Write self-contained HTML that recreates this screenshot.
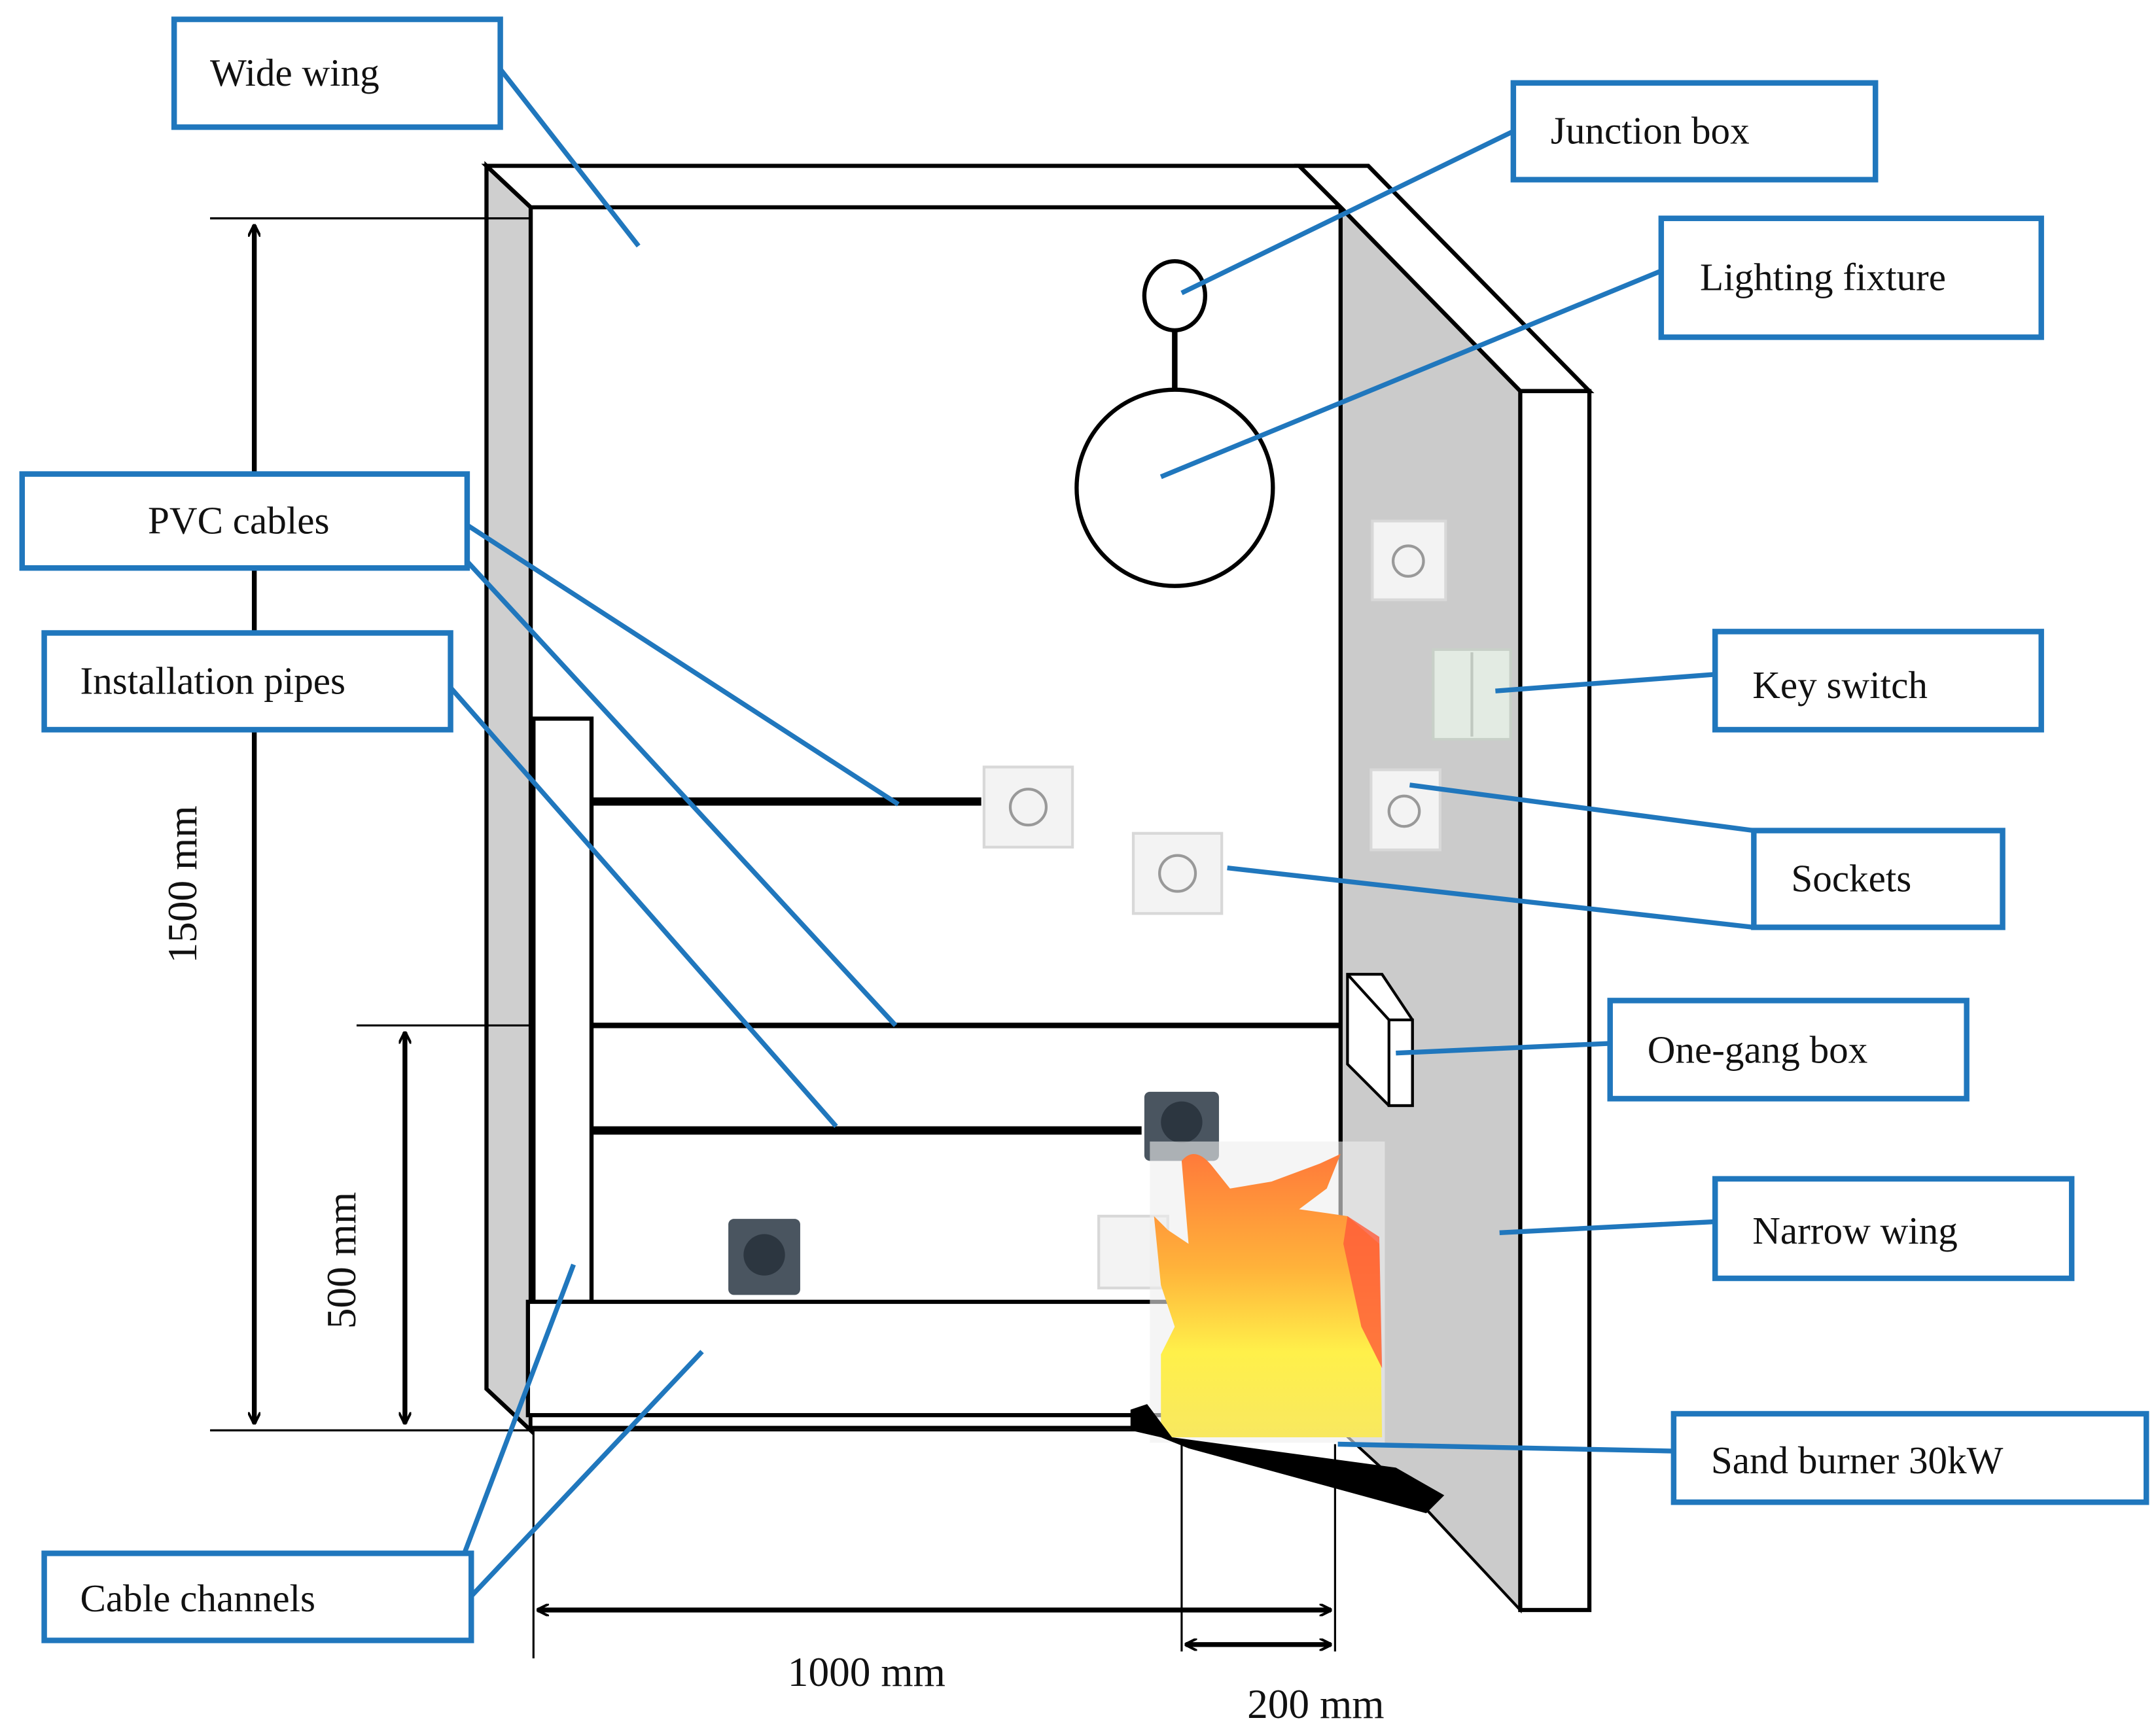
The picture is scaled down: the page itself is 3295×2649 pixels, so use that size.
<!DOCTYPE html>
<html><head><meta charset="utf-8"><style>
html,body{margin:0;padding:0;background:#fff;}
svg{display:block;}
text{font-family:"Liberation Serif",serif;fill:#111;}
</style></head><body>
<svg width="3295" height="2649" viewBox="0 0 1560 1254" preserveAspectRatio="none" xmlns="http://www.w3.org/2000/svg">
<defs>
<marker id="ah" viewBox="0 0 12 12" refX="11" refY="6" markerWidth="9" markerHeight="9" orient="auto-start-reverse" markerUnits="userSpaceOnUse">
<path d="M0,0 L12,6 L0,12" fill="none" stroke="#000" stroke-width="2.5"/></marker>
<linearGradient id="fire" x1="0" y1="0" x2="0" y2="1">
<stop offset="0" stop-color="#ff7a3a"/><stop offset="0.4" stop-color="#ffb23a"/><stop offset="0.7" stop-color="#fff04a"/><stop offset="1" stop-color="#f8e860"/></linearGradient>
</defs>
<rect width="1560" height="1254" fill="#fff"/>
<!-- narrow wing -->
<polygon points="970,150 1100,283 1100,1165 1030,1090 970,1035" fill="#cbcbcb" stroke="#000" stroke-width="2"/>
<polygon points="940,120 990,120 1150,283 1100,283 970,150" fill="#fff" stroke="#000" stroke-width="3"/>
<rect x="1100" y="283" width="50" height="882" fill="#fff" stroke="#000" stroke-width="3"/>
<!-- wide wing -->
<polygon points="352,120 384,150 384,1035 352,1005" fill="#cfcfcf" stroke="#000" stroke-width="3"/>
<polygon points="352,120 940,120 970,150 384,150" fill="#fff" stroke="#000" stroke-width="3"/>
<line x1="970" y1="150" x2="970" y2="1035" stroke="#000" stroke-width="3"/>
<!-- floor -->
<rect x="384" y="1024" width="446" height="9" fill="#fff" stroke="#000" stroke-width="2.5"/>
<!-- cable channels -->
<rect x="386" y="520" width="42" height="422" fill="#fff" stroke="#000" stroke-width="3"/>
<rect x="382" y="942" width="588" height="82" fill="#fff" stroke="#000" stroke-width="3"/>
<!-- cables -->
<line x1="428" y1="580" x2="710" y2="580" stroke="#000" stroke-width="6"/>
<line x1="428" y1="742" x2="970" y2="742" stroke="#000" stroke-width="4"/>
<line x1="428" y1="818" x2="826" y2="818" stroke="#000" stroke-width="6"/>
<!-- dimensions -->
<g stroke="#000" stroke-width="1.5">
<line x1="152" y1="158" x2="384" y2="158"/>
<line x1="152" y1="1035" x2="970" y2="1035"/>
<line x1="258" y1="742" x2="384" y2="742"/>
<line x1="386" y1="1035" x2="386" y2="1200"/>
<line x1="855" y1="1045" x2="855" y2="1195"/>
<line x1="966" y1="1045" x2="966" y2="1195"/>
</g>
<g stroke="#000" stroke-width="3.5" fill="none">
<line x1="184" y1="163" x2="184" y2="1030" marker-start="url(#ah)" marker-end="url(#ah)"/>
<line x1="293" y1="747" x2="293" y2="1030" marker-start="url(#ah)" marker-end="url(#ah)"/>
<line x1="389" y1="1165" x2="963" y2="1165" marker-start="url(#ah)" marker-end="url(#ah)"/>
<line x1="858" y1="1190" x2="963" y2="1190" marker-start="url(#ah)" marker-end="url(#ah)"/>
</g>
<text x="0" y="0" font-size="30" transform="translate(142,640) rotate(-90)" text-anchor="middle">1500 mm</text>
<text x="0" y="0" font-size="30" transform="translate(257,912) rotate(-90)" text-anchor="middle">500 mm</text>
<text x="627" y="1220" font-size="30" text-anchor="middle">1000 mm</text>
<text x="952" y="1243" font-size="30" text-anchor="middle">200 mm</text>
<!-- lighting -->
<ellipse cx="850" cy="214" rx="22" ry="25" fill="#fff" stroke="#000" stroke-width="3"/>
<line x1="850" y1="239" x2="850" y2="284" stroke="#000" stroke-width="4"/>
<circle cx="850" cy="353" r="71" fill="#fff" stroke="#000" stroke-width="3"/>
<!-- sockets -->
<g stroke="#d8d8d8" stroke-width="2" fill="#f3f3f3">
<rect x="712" y="555" width="64" height="58"/><rect x="820" y="603" width="64" height="58"/>
<rect x="993" y="377" width="53" height="57"/><rect x="992" y="557" width="50" height="58"/>
<rect x="795" y="880" width="50" height="52"/>
</g>
<g fill="none" stroke="#999" stroke-width="2">
<circle cx="744" cy="584" r="13"/><circle cx="852" cy="632" r="13"/>
<circle cx="1019" cy="406" r="11"/><circle cx="1016" cy="587" r="11"/>
</g>
<rect x="1037" y="470" width="56" height="65" fill="#e3ebe3" stroke="#c8d0c8" stroke-width="2"/>
<line x1="1065" y1="472" x2="1065" y2="533" stroke="#c0c8c0" stroke-width="2"/>
<rect x="828" y="790" width="54" height="50" rx="4" fill="#4a5560"/>
<circle cx="855" cy="812" r="15" fill="#2c3640"/>
<rect x="527" y="882" width="52" height="55" rx="4" fill="#4a5560"/>
<circle cx="553" cy="908" r="15" fill="#2c3640"/>
<!-- one-gang box -->
<polygon points="975,705 1000,705 1022,738 1022,800 1005,800 975,770" fill="#fff" stroke="#000" stroke-width="2"/>
<rect x="1005" y="738" width="17" height="62" fill="#fff" stroke="#000" stroke-width="2"/>
<line x1="975" y1="705" x2="1005" y2="738" stroke="#000" stroke-width="2"/>
<!-- fire -->
<rect x="832" y="826" width="170" height="218" fill="#eeeeee" opacity="0.6"/>
<path d="M855,840 Q865,828 878,845 L890,860 L920,855 L955,842 L970,835 L960,860 L940,875 L975,880 L998,900 L1000,1040 L930,1040 L840,1040 L840,980 L850,960 L840,930 L835,880 L845,890 L860,900 Z" fill="url(#fire)"/>
<path d="M975,880 L998,895 L1000,990 L985,960 L972,900 Z" fill="#ff5a3a" opacity="0.8"/>
<!-- burner -->
<polygon points="818,1020 830,1016 848,1040 1010,1062 1045,1082 1032,1095 860,1048 840,1040 818,1035" fill="#000"/>
<!-- leaders -->
<g stroke="#2077bd" stroke-width="3.5" fill="none">
<line x1="362" y1="50" x2="462" y2="178"/>
<line x1="1095" y1="95" x2="855" y2="212"/>
<line x1="1202" y1="196" x2="840" y2="345"/>
<line x1="335" y1="378" x2="650" y2="582"/>
<line x1="335" y1="403" x2="648" y2="742"/>
<line x1="322" y1="493" x2="605" y2="815"/>
<line x1="1241" y1="488" x2="1082" y2="500"/>
<line x1="1269" y1="601" x2="1020" y2="568"/>
<line x1="1269" y1="671" x2="888" y2="628"/>
<line x1="1165" y1="755" x2="1010" y2="762"/>
<line x1="1241" y1="884" x2="1085" y2="892"/>
<line x1="1211" y1="1050" x2="968" y2="1045"/>
<line x1="336" y1="1124" x2="415" y2="915"/>
<line x1="341" y1="1155" x2="508" y2="978"/>
</g>
<!-- label boxes -->
<g stroke="#2077bd" stroke-width="4" fill="#fff">
<rect x="126" y="14" width="236" height="78"/>
<rect x="1095" y="60" width="262" height="70"/>
<rect x="1202" y="158" width="275" height="86"/>
<rect x="16" y="343" width="322" height="68"/>
<rect x="32" y="458" width="294" height="70"/>
<rect x="1241" y="457" width="236" height="71"/>
<rect x="1269" y="601" width="180" height="70"/>
<rect x="1165" y="724" width="258" height="71"/>
<rect x="1241" y="853" width="258" height="72"/>
<rect x="1211" y="1023" width="342" height="64"/>
<rect x="32" y="1124" width="309" height="63"/>
</g>
<g font-size="28">
<text x="152" y="62">Wide wing</text>
<text x="1122" y="104">Junction box</text>
<text x="1230" y="210">Lighting fixture</text>
<text x="107" y="386">PVC cables</text>
<text x="58" y="502">Installation pipes</text>
<text x="1268" y="505">Key switch</text>
<text x="1296" y="645">Sockets</text>
<text x="1192" y="769">One-gang box</text>
<text x="1268" y="900">Narrow wing</text>
<text x="1238" y="1066">Sand burner 30kW</text>
<text x="58" y="1166">Cable channels</text>
</g>
</svg>
</body></html>
